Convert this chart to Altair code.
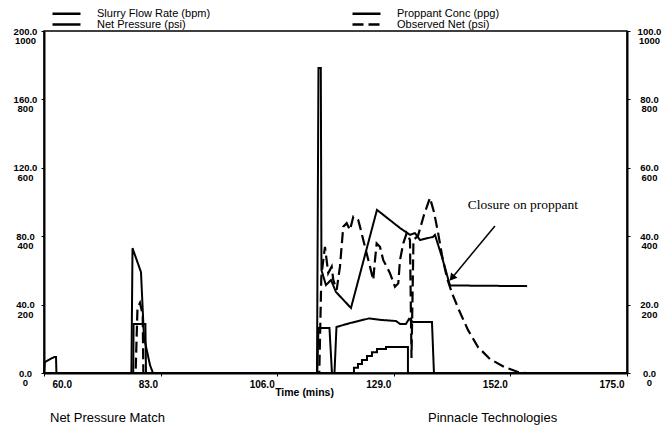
import altair as alt
import pandas as pd

# ---------------- data ----------------
FLOW_T = [60.0, 60.16, 62.03, 62.37, 62.45, 77.6, 77.67, 80.0, 80.12, 113.9, 114.14, 116.31, 116.8,
          117.3, 117.69, 120.36, 124.1, 126.67, 129.43, 130.22, 131.4, 131.99, 132.78, 136.53, 136.92, 175.0]
FLOW_BPM = [0, 6.4, 9.4, 9.4, 0, 0, 28.7, 28.7, 0, 0, 26.3, 26.3, 0,
            0, 26.9, 29.2, 31.9, 31.0, 30.4, 28.7, 28.7, 31.6, 29.8, 29.8, 0, 0]

NET_T = [60.0, 77.24, 77.46, 79.13, 79.72, 80.91, 81.5, 113.85, 114.14, 114.6, 114.73, 115.62, 116.61,
         117.59, 120.55, 125.68, 130.22, 132.19, 133.17, 134.16, 136.73, 137.12, 138.5, 140.08, 155.3]
NET_PSI = [0, 0, 365, 295, 105, 23, 0, 0, 892, 892, 301, 257, 272,
           237, 190, 477, 424, 404, 409, 389, 398, 404, 339, 256, 254]

OBS_T = [60.0, 78.07, 78.44, 78.93, 79.47, 79.6, 114.3, 114.7, 115.09, 115.42, 116.07, 116.75, 117.06,
         117.73, 118.38, 119.03, 119.70, 120.36, 121.01, 121.99, 122.33, 122.98, 124.30, 124.95, 125.29,
         125.62, 126.27, 126.92, 128.24, 129.23, 129.88, 130.22, 130.87, 131.54, 132.19, 132.49, 132.88,
         133.77, 134.95, 136.13, 136.92, 137.71, 138.50, 139.49, 140.47, 141.85, 143.63, 145.60, 147.97,
         150.73, 153.49, 155.07, 175.0]
OBS_PSI = [0, 0, 190, 205, 170, 0, 0, 280, 330, 369, 292, 311, 272,
           243, 311, 428, 438, 418, 457, 447, 428, 389, 311, 272, 330,
           379, 369, 330, 292, 252, 262, 330, 379, 409, 389, 44, 389,
           401, 462, 512, 471, 412, 345, 278, 234, 184, 126, 76, 41,
           18, 3, 0, 0]

PROP_T = [60.0, 120.75, 121.14, 121.93, 122.72, 123.71, 124.69, 125.68, 127.46, 131.01, 131.79, 175.0]
PROP_PPG = [0, 0, 1.5, 2.6, 3.8, 5.0, 6.1, 7.0, 7.6, 7.6, 0, 0]

# legend order (entries fill column by column)
SERIES = ["Slurry Flow Rate (bpm)", "Net Pressure (psi)", "Proppant Conc (ppg)", "Observed Net (psi)"]
DASHES = [[1, 0], [1, 0], [1, 0], [11, 5]]

X_TICKS = [60, 83, 106, 129, 152, 175]
LEFT_TICKS = [0, 40, 80, 120, 160, 200]
RIGHT_TICKS = [0, 20, 40, 60, 80, 100]

ANNOT_TEXT = ["Closure on proppant"]
ANNOT_T = [143.6]
ANNOT_PSI = [491]
ARROW_T = [148.95, 140.47]
ARROW_PSI = [430, 278]

FOOTER = ["Net Pressure Match", "Pinnacle Technologies"]

FONT = "Liberation Sans"

# ---------------- tables ----------------
left_df = pd.concat([
    pd.DataFrame({"t": FLOW_T, "val": FLOW_BPM, "series": SERIES[0]}),
    pd.DataFrame({"t": NET_T, "val": [p / 5 for p in NET_PSI], "series": SERIES[1]}),
])
obs_df = pd.DataFrame({"t": OBS_T, "val": [p / 10 for p in OBS_PSI], "series": SERIES[3]})
prop_df = pd.DataFrame({"t": PROP_T, "val": PROP_PPG, "series": SERIES[2]})
annot_df = pd.DataFrame({"t": ANNOT_T, "val": [p / 5 for p in ANNOT_PSI], "text": ANNOT_TEXT})
arrow_df = pd.DataFrame({"t": [ARROW_T[0]], "t2": [ARROW_T[1]],
                         "val": [ARROW_PSI[0] / 5], "val2": [ARROW_PSI[1] / 5]})
head_df = pd.DataFrame({"t": [ARROW_T[1]], "val": [ARROW_PSI[1] / 5]})

# ---------------- encodings ----------------
x_scale = alt.Scale(domain=[60, 175], nice=False, zero=False)
x_axis = alt.Axis(
    values=X_TICKS, format=".1f", title="Time (mins)", grid=False,
    labelFlush=False, labelOverlap=False,
    labelAlign={"condition": {"test": "datum.value <= 60", "value": "left"}, "value": "right"},
    labelOffset={"condition": {"test": "datum.value <= 60", "value": 8}, "value": -3},
    labelFontSize=10, labelFontWeight="bold", labelColor="black", labelPadding=3,
    tickSize=3, tickColor="black", domainColor="black", domainWidth=2,
    titleFontSize=10.5, titleFontWeight="bold", titleColor="black",
    titleX=260, titleY=19, titleBaseline="middle",
)


def X(field="t"):
    return alt.X(f"{field}:Q", scale=x_scale, axis=x_axis)


left_axis = alt.Axis(
    values=LEFT_TICKS, orient="left", title=None, grid=False,
    labelExpr="[format(datum.value, '.1f'), format(datum.value * 5, 'd')]",
    labelAlign="center", labelBaseline="middle", labelPadding=16, labelLineHeight=9.5,
    labelFontSize=9.5, labelFontWeight="bold", labelColor="black",
    tickSize=3, tickColor="black", domainColor="black", domainWidth=2,
)
right_axis = alt.Axis(
    values=RIGHT_TICKS, orient="right", title=None, grid=False,
    labelExpr="[format(datum.value, '.1f'), format(datum.value * 10, 'd')]",
    labelAlign="center", labelBaseline="middle", labelPadding=19, labelLineHeight=9.5,
    labelFontSize=9.5, labelFontWeight="bold", labelColor="black",
    tickSize=3, tickColor="black", domainColor="black", domainWidth=2,
)

dash = alt.StrokeDash(
    "series:N",
    scale=alt.Scale(domain=SERIES, range=DASHES),
    sort=SERIES,
    legend=alt.Legend(
        title=None, orient="none", legendX=17, legendY=-23, columns=2,
        columnPadding=136, rowPadding=-2, symbolType="M-4,0H4", symbolSize=49,
        symbolStrokeWidth=2.5, symbolStrokeColor="black", labelFontSize=11,
        labelOffset=25, labelColor="black", labelFont=FONT, labelBaseline="middle",
    ),
)

left_lines = alt.Chart(left_df).mark_line(color="black", strokeWidth=2).encode(
    x=X(),
    y=alt.Y("val:Q", scale=alt.Scale(domain=[0, 200], nice=False), axis=left_axis),
    strokeDash=dash,
    detail="series:N",
)

obs_line = alt.Chart(obs_df).mark_line(color="black", strokeWidth=2.2).encode(
    x=X(),
    y=alt.Y("val:Q", scale=alt.Scale(domain=[0, 100], nice=False), axis=right_axis),
    strokeDash=dash,
    detail="series:N",
)

prop_line = alt.Chart(prop_df).mark_line(color="black", strokeWidth=2, interpolate="step-after").encode(
    x=X(),
    y=alt.Y("val:Q", scale=alt.Scale(domain=[0, 100], nice=False), axis=None),
    strokeDash=dash,
    detail="series:N",
)

annot = alt.Chart(annot_df).mark_text(
    font="Liberation Serif", fontSize=13.5, align="left", baseline="middle", color="black"
).encode(
    x=X(),
    y=alt.Y("val:Q", scale=alt.Scale(domain=[0, 200], nice=False), axis=None),
    text="text:N",
)

arrow = alt.Chart(arrow_df).mark_rule(color="black", strokeWidth=1.5).encode(
    x=X(), x2="t2:Q",
    y=alt.Y("val:Q", scale=alt.Scale(domain=[0, 200], nice=False), axis=None), y2="val2:Q",
)

head = alt.Chart(head_df).mark_point(
    shape="triangle-up", filled=True, size=70, angle=220, color="black", opacity=1
).encode(
    x=X(),
    y=alt.Y("val:Q", scale=alt.Scale(domain=[0, 200], nice=False), axis=None),
)

foot_left = alt.Chart(pd.DataFrame({"text": [FOOTER[0]]})).mark_text(
    align="left", baseline="middle", fontSize=13, color="black", font=FONT
).encode(x=alt.value(6), y=alt.value(387), text="text:N")

foot_right = alt.Chart(pd.DataFrame({"text": [FOOTER[1]]})).mark_text(
    align="left", baseline="middle", fontSize=13, color="black", font=FONT
).encode(x=alt.value(384), y=alt.value(387), text="text:N")

chart = alt.layer(
    left_lines, obs_line, prop_line, annot, arrow, head, foot_left, foot_right
).resolve_scale(
    y="independent"
).properties(
    width=583, height=342,
    padding={"left": 36, "top": 23, "right": 37, "bottom": 55},
    autosize=alt.AutoSizeParams(type="none"),
    background="white",
).configure(
    font=FONT
).configure_view(
    stroke="black", strokeWidth=1.5
)

chart.save("out.html", embed_options={"renderer": "svg", "actions": False})
